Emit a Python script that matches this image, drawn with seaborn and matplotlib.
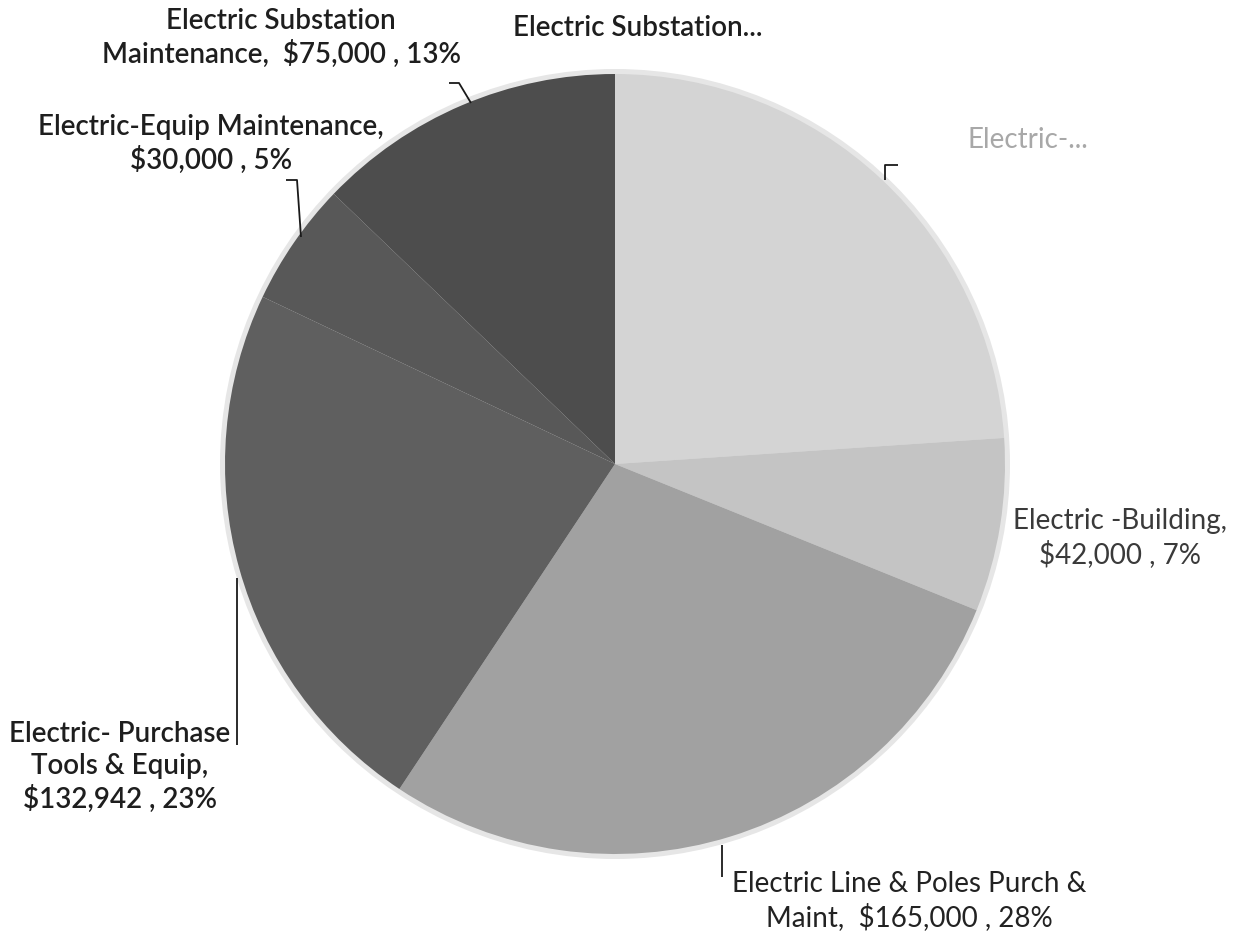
import matplotlib
matplotlib.use("Agg")
import matplotlib.pyplot as plt
import seaborn as sns
from matplotlib.patches import Circle

# ---------------- data ----------------
categories = ["Electric Substation...", "Electric-...", "Electric -Building",
              "Electric Line & Poles Purch & Maint", "Electric- Purchase Tools & Equip",
              "Electric-Equip Maintenance", "Electric Substation Maintenance"]
values = [0, 140000, 42000, 165000, 132942, 30000, 75000]
# label name parts as shown (with the chart's line breaks); None value part = truncated label
label_names = ["Electric Substation...", "Electric-...", "Electric -Building,",
               "Electric Line & Poles Purch &\nMaint,", "Electric- Purchase\nTools & Equip,",
               "Electric-Equip Maintenance,", "Electric Substation\nMaintenance,"]
label_seps = [None, None, "\n", "  ", "\n", "\n", "  "]
slice_colors = ["#cccccc", "#d4d4d4", "#c4c4c4", "#a1a1a1", "#5f5f5f", "#585858", "#4d4d4d"]

# ---------------- figure ----------------
sns.set_theme(style="white")
plt.rcParams["font.family"] = ["Lato", "DejaVu Sans"]

W, H = 1234, 936
fig = plt.figure(figsize=(W / 100, H / 100), dpi=100)
ax = fig.add_axes([0, 0, 1, 1])

cx, cy, R = 615, H - 464, 390

# soft halo like the scanned pie
ax.add_patch(Circle((cx, cy), R + 5, facecolor="#e6e6e6", edgecolor="none", zorder=0))

ax.pie(values, colors=slice_colors, startangle=90, counterclock=False,
       center=(cx, cy), radius=R, frame=True,
       wedgeprops=dict(edgecolor="none", linewidth=0))
ax.set_xlim(0, W)
ax.set_ylim(0, H)
ax.set_aspect("equal")
ax.axis("off")

total = sum(values)
texts = []
for name, sep, v in zip(label_names, label_seps, values):
    if sep is None:
        texts.append(name)
    else:
        pct = round(v / total * 100)
        texts.append(f"{name}{sep}${v:,} , {pct}%")

# label placement (pixel coords from the top-left) and styles
pos = [(638, 28), (1028, 140), (1120, 538), (909, 901), (120, 767), (211, 144), (281, 38)]
colors_txt = ["#1e1e1e", "#a8a8a8", "#3a3a3a", "#222222", "#1e1e1e", "#1e1e1e", "#1e1e1e"]
weights = ["semibold", "normal", "normal", "normal", "semibold", "semibold", "semibold"]

for t, (x, y), c, w in zip(texts, pos, colors_txt, weights):
    ax.text(x, H - y, t, ha="center", va="center", fontsize=20, color=c,
            fontweight=w, linespacing=1.28, zorder=5)

# leader lines (pixel coords from the top-left)
leaders = [
    [(449, 83), (459, 83), (471, 103)],
    [(286, 180), (297, 180), (301, 237)],
    [(237, 745), (237, 578)],
    [(722, 845), (722, 877)],
    [(885, 180), (885, 165), (898, 165)],
]
for pts in leaders:
    xs = [p[0] for p in pts]
    ys = [H - p[1] for p in pts]
    ax.plot(xs, ys, color="#1a1a1a", lw=1.3, zorder=4, solid_capstyle="butt")

fig.savefig("out.png", dpi=100, facecolor="white")
